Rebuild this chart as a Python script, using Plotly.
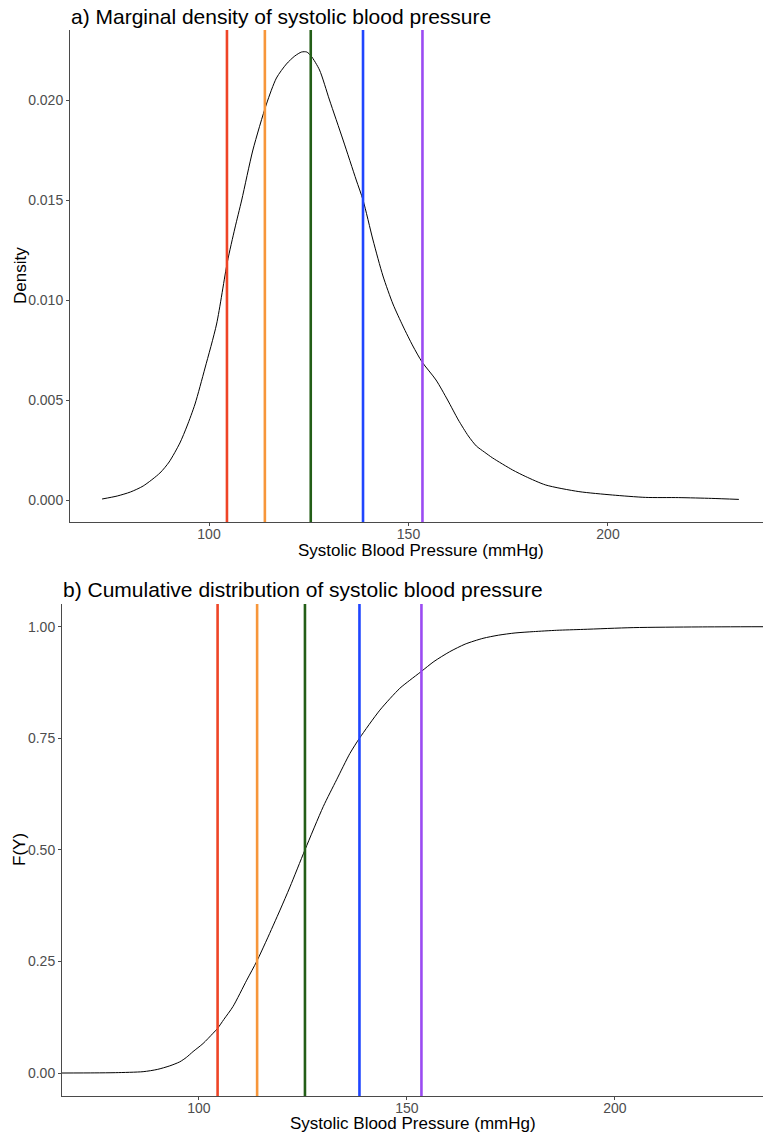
import plotly.graph_objects as go

# Systolic blood pressure grid (mmHg) and estimated marginal density
sbp_density_x = [73.2, 77, 80.3, 83.5, 87.7, 90, 92.7, 94.5, 96.5, 99, 101.9, 104.6, 106.5, 108.2,
                 111, 114.4, 116.9, 119.4, 121.5, 123.2, 124.5, 125.6, 127.7, 130.2, 133.6,
                 136.9, 138.6, 141.1, 143.6, 146.1, 148.6, 151.1, 153.4, 156.9, 159.8, 162.5,
                 165.0, 167.0, 169.0, 171.1, 176.1, 179.4, 184.4, 192.7, 201.1, 209.4, 217.7,
                 226.0, 232.8]
density = [0.00005, 0.0002, 0.0004, 0.0007, 0.00135, 0.0019, 0.00285, 0.0037, 0.0048, 0.0066,
           0.0088, 0.0119, 0.0136, 0.0150, 0.0175, 0.0198, 0.0211, 0.0218, 0.0222, 0.0224, 0.0224,
           0.0222, 0.0215, 0.0200, 0.0180, 0.0160, 0.0150, 0.0130, 0.0112, 0.0098, 0.0087,
           0.0077, 0.0069, 0.0060, 0.0050, 0.0040, 0.0032, 0.0027, 0.0024, 0.0021, 0.0015,
           0.00117, 0.00075, 0.00042, 0.00025, 0.00013, 0.00012, 0.00008, 0.00003]

# Cumulative distribution F(Y)
sbp_cdf_x = [67.1, 75, 80, 86.6, 90, 93, 95.4, 97, 98.6, 101, 103.4, 104.5, 106, 108.2, 111.5,
             113.9, 116.3, 119.5, 121.9, 125.5, 129.9, 133.1, 136.3, 138.6, 143.5, 148.3,
             150.7, 153.5, 156.5, 160.3, 164, 168.3, 172, 176, 180.4, 186, 192.4, 204.4, 220, 235.6]
cdf = [0.0, 0.0003, 0.0008, 0.003, 0.008, 0.016, 0.025, 0.035, 0.048, 0.066, 0.089, 0.100, 0.12,
       0.149, 0.208, 0.250, 0.298, 0.365, 0.417, 0.500, 0.597, 0.657, 0.716, 0.750, 0.813,
       0.862, 0.880, 0.900, 0.922, 0.944, 0.961, 0.974, 0.981, 0.986, 0.989, 0.992, 0.994,
       0.998, 0.9995, 1.0]

# Quantiles (10th, 25th, 50th, 75th, 90th percentiles)
quantile_values = [104.5, 114.0, 125.5, 138.6, 153.5]
quantile_colors = ["#EF4426", "#F7963A", "#235E17", "#1F45FF", "#9B4BF2"]

W, H = 763, 1133
FONT = "Liberation Sans, Arial, sans-serif"


def px_x(p):
    return p / W


def px_y(p):
    return 1 - p / H


fig = go.Figure()

fig.add_trace(go.Scatter(x=sbp_density_x, y=density, mode="lines",
                         line=dict(color="black", width=1, shape="spline", smoothing=0.7),
                         xaxis="x", yaxis="y", showlegend=False, hoverinfo="skip"))
fig.add_trace(go.Scatter(x=sbp_cdf_x, y=cdf, mode="lines",
                         line=dict(color="black", width=1, shape="spline", smoothing=0.7),
                         xaxis="x2", yaxis="y2", showlegend=False, hoverinfo="skip"))

shapes = []
for q, c in zip(quantile_values, quantile_colors):
    for xr, yr in (("x", "y domain"), ("x2", "y2 domain")):
        shapes.append(dict(type="line", xref=xr, yref=yr, x0=q, x1=q, y0=0, y1=1,
                           line=dict(color=c, width=2.6), layer="above"))

axis_common = dict(showline=True, linecolor="#4a4a4a", linewidth=1, ticks="outside",
                   ticklen=3, tickcolor="#4a4a4a", showgrid=False, zeroline=False,
                   tickfont=dict(family=FONT, size=14, color="#4D4D4D"), fixedrange=True)

annotations = [
    dict(text="a) Marginal density of systolic blood pressure", x=px_x(69), y=px_y(16),
         xref="paper", yref="paper", xanchor="left", yanchor="middle", showarrow=False,
         font=dict(family=FONT, size=21, color="black")),
    dict(text="b) Cumulative distribution of systolic blood pressure", x=px_x(61), y=px_y(589),
         xref="paper", yref="paper", xanchor="left", yanchor="middle", showarrow=False,
         font=dict(family=FONT, size=21, color="black")),
    dict(text="Systolic Blood Pressure (mmHg)", x=px_x(421), y=px_y(550),
         xref="paper", yref="paper", xanchor="center", yanchor="middle", showarrow=False,
         font=dict(family=FONT, size=17, color="black")),
    dict(text="Systolic Blood Pressure (mmHg)", x=px_x(413), y=px_y(1123),
         xref="paper", yref="paper", xanchor="center", yanchor="middle", showarrow=False,
         font=dict(family=FONT, size=17, color="black")),
    dict(text="Density", x=px_x(20), y=px_y(276), textangle=-90,
         xref="paper", yref="paper", xanchor="center", yanchor="middle", showarrow=False,
         font=dict(family=FONT, size=17, color="black")),
    dict(text="F(Y)", x=px_x(19), y=px_y(850), textangle=-90,
         xref="paper", yref="paper", xanchor="center", yanchor="middle", showarrow=False,
         font=dict(family=FONT, size=17, color="black")),
]

x_axis_extra = dict(ticklabelstandoff=-4)

fig.update_layout(
    width=W, height=H,
    margin=dict(l=0, r=0, t=0, b=0),
    paper_bgcolor="white", plot_bgcolor="white",
    xaxis=dict(domain=[px_x(70), 1], range=[65.16, 238.85], anchor="y",
               tickvals=[100, 150, 200], **axis_common, **x_axis_extra),
    yaxis=dict(domain=[px_y(522), px_y(30)], range=[-0.0011, 0.0235], anchor="x",
               tickvals=[0, 0.005, 0.01, 0.015, 0.02], tickformat=".3f", **axis_common),
    xaxis2=dict(domain=[px_x(62), 1], range=[67.1, 235.6], anchor="y2",
                tickvals=[100, 150, 200], **axis_common, **x_axis_extra),
    yaxis2=dict(domain=[px_y(1096), px_y(604)], range=[-0.0515, 1.0509], anchor="x2",
                tickvals=[0, 0.25, 0.5, 0.75, 1.0], tickformat=".2f", **axis_common),
    shapes=shapes,
    annotations=annotations,
    showlegend=False,
)

fig.write_html("out.html")
